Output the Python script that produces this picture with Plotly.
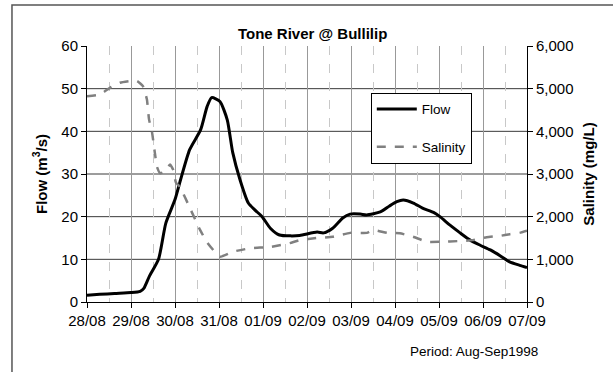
import plotly.graph_objects as go

# Flow record (m3/s), Tone River at Bullilip
flow_time = [
    "1998-08-28 00:00", "1998-08-28 07:00", "1998-08-28 15:00", "1998-08-29 00:00",
    "1998-08-29 05:00", "1998-08-29 07:00", "1998-08-29 10:00", "1998-08-29 15:00",
    "1998-08-29 19:00", "1998-08-30 00:00", "1998-08-30 03:00", "1998-08-30 08:00",
    "1998-08-30 14:00", "1998-08-30 17:30", "1998-08-30 20:00", "1998-08-31 00:30",
    "1998-08-31 04:30", "1998-08-31 07:30", "1998-08-31 11:30", "1998-08-31 16:00",
    "1998-08-31 19:30", "1998-08-31 23:30", "1998-09-01 04:00", "1998-09-01 09:00",
    "1998-09-01 15:00", "1998-09-01 20:00", "1998-09-02 05:30", "1998-09-02 09:00",
    "1998-09-02 14:00", "1998-09-02 19:30", "1998-09-02 23:30", "1998-09-03 05:00",
    "1998-09-03 08:30", "1998-09-03 16:00", "1998-09-03 21:00", "1998-09-04 01:00",
    "1998-09-04 04:30", "1998-09-04 10:00", "1998-09-04 15:00", "1998-09-04 21:00",
    "1998-09-05 00:30", "1998-09-05 06:00", "1998-09-05 11:30", "1998-09-05 17:00",
    "1998-09-05 22:30", "1998-09-06 04:00", "1998-09-06 09:30", "1998-09-06 14:30",
    "1998-09-06 20:00", "1998-09-07 00:00",
]
flow_value = [
    1.6, 1.8, 2.0, 2.2, 2.5, 3.2, 6.0, 10.0, 18.5, 24.0, 28.6, 35.7, 40.4, 45.8,
    47.9, 47.0, 42.7, 35.0, 28.6, 23.2, 21.6, 20.0, 17.3, 15.7, 15.5, 15.6, 16.4,
    16.2, 17.3, 19.7, 20.6, 20.6, 20.4, 21.1, 22.5, 23.5, 23.9, 23.2, 22.0, 21.0,
    20.0, 18.0, 16.2, 14.5, 13.3, 12.2, 10.8, 9.4, 8.6, 8.1,
]

# Salinity record (mg/L)
sal_time = [
    "1998-08-28 00:00", "1998-08-28 07:00", "1998-08-28 12:30", "1998-08-28 18:00",
    "1998-08-28 23:30", "1998-08-29 03:20", "1998-08-29 06:30", "1998-08-29 08:40",
    "1998-08-29 09:50", "1998-08-29 11:30", "1998-08-29 13:00", "1998-08-29 14:10",
    "1998-08-29 15:50", "1998-08-29 18:00", "1998-08-29 21:20", "1998-08-29 23:00",
    "1998-08-30 00:30", "1998-08-30 02:40", "1998-08-30 08:10", "1998-08-30 13:40",
    "1998-08-30 17:30", "1998-08-31 00:30", "1998-08-31 07:40", "1998-08-31 17:00",
    "1998-09-01 03:50", "1998-09-01 14:40", "1998-09-01 20:00", "1998-09-02 05:30",
    "1998-09-02 14:00", "1998-09-02 23:30", "1998-09-03 08:40", "1998-09-03 12:00",
    "1998-09-03 19:40", "1998-09-04 02:40", "1998-09-04 09:50", "1998-09-04 17:30",
    "1998-09-05 00:30", "1998-09-05 11:30", "1998-09-05 18:30", "1998-09-06 02:00",
    "1998-09-06 09:20", "1998-09-06 14:40", "1998-09-06 20:00", "1998-09-07 00:00",
]
sal_value = [
    4820, 4860, 5020, 5140, 5180, 5180, 5060, 4750, 4280, 3970, 3500, 3170, 3020,
    3050, 3220, 3100, 2800, 2700, 2200, 1690, 1400, 1060, 1180, 1260, 1290, 1380,
    1450, 1500, 1530, 1620, 1620, 1690, 1620, 1610, 1530, 1410, 1410, 1430, 1450,
    1520, 1550, 1590, 1620, 1670,
]

flow_ticks = [0, 10, 20, 30, 40, 50, 60]
sal_ticks = [0, 1000, 2000, 3000, 4000, 5000, 6000]

FONT = "Liberation Sans, Arial, sans-serif"

fig = go.Figure()
fig.add_trace(go.Scatter(
    x=flow_time, y=flow_value, name="Flow", mode="lines",
    line=dict(color="black", width=3, shape="spline", smoothing=0.6),
    legendgroup="a",
))
fig.add_trace(go.Scatter(
    x=sal_time, y=sal_value, name="Salinity", mode="lines", yaxis="y2",
    line=dict(color="#808080", width=2.5, dash="dash", shape="spline", smoothing=0.4),
    legendgroup="b",
))

# horizontal grid lines (between the axis ends)
shapes = []
for v in flow_ticks[1:-1]:
    shapes.append(dict(type="line", xref="paper", yref="y", x0=0, x1=1, y0=v, y1=v,
                       line=dict(color="#3a3a3a", width=1), layer="below"))
# outer chart frame
shapes.append(dict(type="rect", xref="paper", yref="paper", x0=-0.1705, x1=1.3,
                   y0=-0.5, y1=1.160, line=dict(color="#555555", width=1.5)))

fig.update_layout(
    width=613, height=372,
    margin=dict(l=87, r=86, t=46, b=70),
    paper_bgcolor="white", plot_bgcolor="white",
    font=dict(family=FONT, size=15, color="black"),
    showlegend=True,
    legend=dict(x=0.645, y=0.817, xanchor="left", yanchor="top",
                bgcolor="white", bordercolor="black", borderwidth=1,
                font=dict(size=13.5), tracegroupgap=17, itemwidth=40),
    xaxis=dict(
        type="date", range=["1998-08-28", "1998-09-07"],
        tick0="1998-08-28", dtick=86400000, tickformat="%d/%m",
        showline=True, linecolor="black", linewidth=1,
        ticks="outside", ticklen=5, tickcolor="black",
        showgrid=True, gridcolor="#999999", gridwidth=1,
        minor=dict(dtick=43200000, showgrid=True, gridcolor="#c8c8c8",
                   griddash="dash", ticks=""),
        zeroline=False,
    ),
    yaxis=dict(
        range=[0, 60], tickvals=flow_ticks,
        title=dict(text="<b>Flow (m<sup>3</sup>/s)</b>", font=dict(size=15), standoff=10),
        showline=True, linecolor="black", linewidth=1,
        ticks="outside", ticklen=5, tickcolor="black",
        showgrid=False, zeroline=False,
    ),
    yaxis2=dict(
        range=[0, 6000], tickvals=sal_ticks, tickformat=",",
        overlaying="y", side="right",
        title=dict(text="<b>Salinity (mg/L)</b>", font=dict(size=15), standoff=10),
        showline=True, linecolor="black", linewidth=1,
        ticks="outside", ticklen=5, tickcolor="black",
        showgrid=False, zeroline=False,
    ),
    title=dict(text="<b>Tone River @ Bullilip</b>", x=0.51, xanchor="center",
               y=0.91, yanchor="middle", font=dict(size=15)),
    shapes=shapes,
    annotations=[dict(text="Period: Aug-Sep1998", xref="paper", yref="paper",
                      x=1.03, y=-0.195, xanchor="right", yanchor="middle",
                      showarrow=False, font=dict(size=13.5))],
)

fig.write_html("out.html")
